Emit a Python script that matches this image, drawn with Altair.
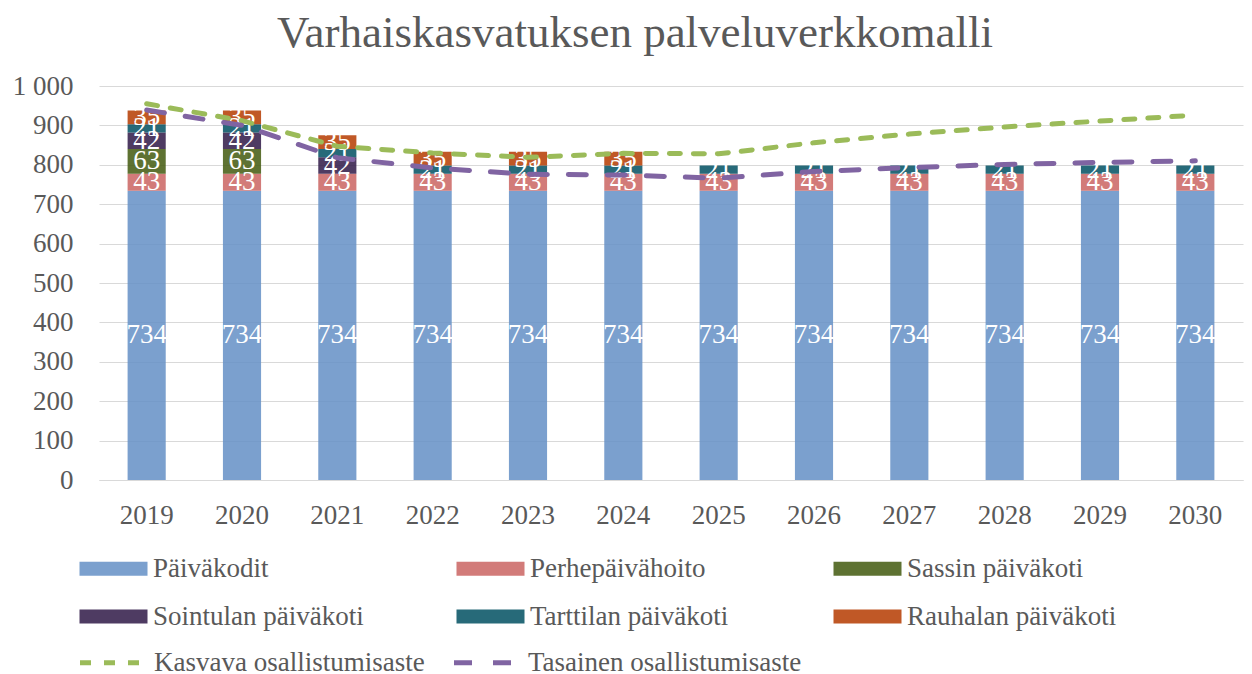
import altair as alt
import pandas as pd

years = ["2019", "2020", "2021", "2022", "2023", "2024",
         "2025", "2026", "2027", "2028", "2029", "2030"]

bar_series = ["Päiväkodit", "Perhepäivähoito", "Sassin päiväkoti",
              "Sointulan päiväkoti", "Tarttilan päiväkoti", "Rauhalan päiväkoti"]
bar_colors = ["#648FC5", "#CA6461", "#42590E", "#2F1946", "#015061", "#B53B00"]

paivakodit = [734, 734, 734, 734, 734, 734, 734, 734, 734, 734, 734, 734]
perhepaivahoito = [43, 43, 43, 43, 43, 43, 43, 43, 43, 43, 43, 43]
sassin = [63, 63, 0, 0, 0, 0, 0, 0, 0, 0, 0, 0]
sointulan = [42, 42, 42, 0, 0, 0, 0, 0, 0, 0, 0, 0]
tarttilan = [21, 21, 21, 21, 21, 21, 21, 21, 21, 21, 21, 21]
rauhalan = [35, 35, 35, 35, 35, 35, 0, 0, 0, 0, 0, 0]

line_series = ["Kasvava osallistumisaste", "Tasainen osallistumisaste"]
line_colors = ["#9BBB59", "#8064A2"]
kasvava = [955, 912, 847, 830, 819, 829, 828, 856, 878, 896, 911, 926]
tasainen = [939, 900, 818, 792, 776, 774, 766, 783, 793, 801, 806, 810]

y_ticks = [0, 100, 200, 300, 400, 500, 600, 700, 800, 900, 1000]

FONT = "Liberation Serif"
TXT = "#595959"
GRID = "#D9D9D9"

rows = []
for i, (name, vals) in enumerate(zip(bar_series, [paivakodit, perhepaivahoito, sassin,
                                                  sointulan, tarttilan, rauhalan])):
    for yr, v in zip(years, vals):
        if v > 0:
            rows.append({"year": yr, "series": name, "value": v, "order": i})
bars_df = pd.DataFrame(rows)

lines_df = pd.DataFrame([
    {"year": yr, "line": name, "value": v}
    for name, vals in zip(line_series, [kasvava, tasainen])
    for yr, v in zip(years, vals)
])

yscale = alt.Scale(domain=[0, 1000], nice=False)
yaxis = alt.Axis(title=None, values=y_ticks, labelOverlap=False,
                 labelExpr="replace(format(datum.value, ','), ',', ' ')",
                 domain=False, ticks=False, gridColor=GRID, gridWidth=1,
                 labelFontSize=27, labelFont=FONT, labelColor=TXT, labelPadding=26)
xaxis = alt.Axis(title=None, labelAngle=0, ticks=False, domainColor=GRID,
                 domainWidth=1, labelFontSize=27, labelFont=FONT,
                 labelColor=TXT, labelPadding=22, grid=False)
xscale = alt.Scale(paddingInner=0.6, paddingOuter=0.3)

bars = alt.Chart(bars_df).mark_bar(opacity=0.85).encode(
    x=alt.X("year:N", sort=years, scale=xscale, axis=xaxis),
    y=alt.Y("value:Q", stack="zero", scale=yscale, axis=yaxis),
    color=alt.Color("series:N",
                    scale=alt.Scale(domain=bar_series, range=bar_colors),
                    legend=alt.Legend(title=None, orient="none", legendX=1, legendY=469,
                                      direction="horizontal",
                                      columns=3, gridAlign="all", columnPadding=92,
                                      rowPadding=20, symbolType="M-3.4,-0.7H3.4V0.7H-3.4Z",
                                      symbolSize=400, symbolStrokeWidth=0,
                                      labelFont=FONT, labelFontSize=27, labelColor=TXT,
                                      labelOffset=26, labelLimit=500, padding=0)),
    order=alt.Order("order:Q", sort="ascending"),
)

labels = alt.Chart(bars_df).transform_stack(
    stack="value", groupby=["year"], sort=[alt.SortField("order", "ascending")],
    as_=["v0", "v1"]
).transform_calculate(
    mid="(datum.v0 + datum.v1) / 2"
).mark_text(color="white", fontSize=27, font=FONT, baseline="middle").encode(
    x=alt.X("year:N", sort=years, scale=xscale, axis=xaxis),
    y=alt.Y("mid:Q", scale=yscale, axis=yaxis),
    text="value:Q",
)

line_legend = alt.Legend(title=None, orient="none", legendX=0, legendY=563,
                         direction="horizontal",
                         columns=2, gridAlign="all", columnPadding=16,
                         symbolType="M-3.25,0H3.25", symbolSize=400,
                         symbolStrokeWidth=5, labelFont=FONT, labelFontSize=27,
                         labelColor=TXT, labelOffset=28, labelLimit=500, padding=0)

lines = alt.Chart(lines_df).mark_line(strokeWidth=5, strokeCap="round").encode(
    x=alt.X("year:N", sort=years, scale=xscale, axis=xaxis),
    y=alt.Y("value:Q", scale=yscale, axis=yaxis),
    color=alt.Color("line:N", scale=alt.Scale(domain=line_series, range=line_colors),
                    legend=line_legend),
    strokeDash=alt.StrokeDash("line:N",
                              scale=alt.Scale(domain=line_series,
                                              range=[[11, 13], [18, 21]]),
                              legend=line_legend),
)

chart = alt.layer(bars, labels, lines).resolve_scale(
    color="independent", strokeDash="independent"
).properties(
    width=1144, height=394, autosize="none",
    padding={"left": 91, "top": 78, "right": 1, "bottom": 208},
    title=alt.TitleParams(text="Varhaiskasvatuksen palveluverkkomalli", font=FONT,
                          fontSize=45, color=TXT, fontWeight="normal",
                          anchor="middle", offset=16, dx=-36),
).configure_view(stroke=None)

chart.save("out.html", embed_options={"renderer": "svg", "actions": False})
